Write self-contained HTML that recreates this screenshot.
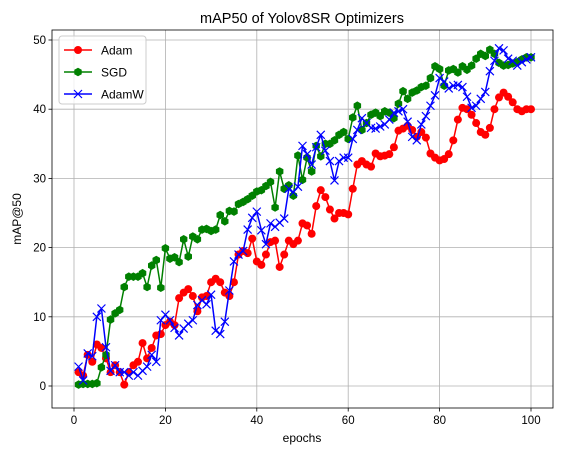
<!DOCTYPE html>
<html><head><meta charset="utf-8"><style>
body{margin:0;background:#fff;}
svg{display:block;font-family:"Liberation Sans","DejaVu Sans",sans-serif;}
</style></head><body>
<svg id="chart" width="562" height="455" viewBox="0 0 562 455" xmlns="http://www.w3.org/2000/svg">
<rect width="562" height="455" fill="#fff"/>
<g id="grid"></g>
<g id="series"></g>
<g id="axes"></g>
<text x="302" y="23" font-size="14.5" text-anchor="middle">mAP50 of Yolov8SR Optimizers</text>
<text x="302" y="442" font-size="12" text-anchor="middle">epochs</text>
<text x="21" y="219" font-size="12" text-anchor="middle" transform="rotate(-90 21 219)">mAP@50</text>
<g>
<rect x="59" y="36" width="87" height="68" rx="3" fill="#fff" fill-opacity="0.8" stroke="#ccc"/>
<g><line x1="64" y1="50" x2="92" y2="50" stroke="red" stroke-width="1.5"/><circle cx="78" cy="50" r="4" fill="red"/><text x="101" y="54.5" font-size="12">Adam</text></g>
<g><line x1="64" y1="72" x2="92" y2="72" stroke="green" stroke-width="1.5"/><polygon id="lghex" fill="green" points=""/><text x="101" y="76.5" font-size="12">SGD</text></g>
<g><line x1="64" y1="94" x2="92" y2="94" stroke="blue" stroke-width="1.5"/><path d="M74 90L82 98M82 90L74 98" stroke="blue" stroke-width="1.2"/><text x="101" y="98.5" font-size="12">AdamW</text></g>
</g>
</svg>
<script>
const adam=[2.0,1.5,4.5,3.5,6,5.5,4,2,3,2,0.2,2,3,3.5,6.2,4,5.5,7.3,7.5,8.8,9.3,8.8,12.7,13.5,14,13,10.8,12.8,13,15,15.5,15,13.5,13,15,19,19.5,19.2,21.3,18,17.5,19,20.8,21,17.2,19,21,20.5,21,23.5,23.2,22,26,28.3,27.3,25.5,24.2,25,25,24.8,28.5,32,32.5,32,31.7,33.6,33.2,33.3,33.5,34.5,36.9,37.2,37.6,37,36,36.7,35.9,33.6,33,32.6,32.8,33.5,35.5,38.5,40.2,40,39.2,38,36.7,36.3,37.3,40,41.7,42.4,41.8,41,40,39.7,40,40];
const sgd=[0.2,0.3,0.3,0.3,0.4,2.7,4.5,9.6,10.5,11,14.3,15.8,15.8,15.8,16.3,14.3,17.4,18.2,14.2,19.9,18.4,18.6,17.9,21.2,18.7,21.6,21.2,22.6,22.7,22.4,22.6,24.7,23.8,25.3,25.2,26.3,26.6,27.0,27.5,28.1,28.3,28.9,29.5,25.8,31,28.5,29,27.5,33.3,29.8,33,31,34.7,33.2,35,35,35.5,36.3,36.7,35.7,38.8,40.5,37,38,39.2,39.5,39,39.7,39.5,38.7,40.8,42.6,41.5,42.4,42.7,43.2,43.4,44.5,46.2,45.8,43.4,45.6,45.8,45.3,46.2,45.7,46.3,47.3,48,47.7,48.6,48,46.7,46.3,46.4,46.6,46.8,47.2,47.5,47.5];
const adamw=[2.8,0.8,4.7,4.3,10,11.2,5.6,2.2,3,2,2,1.5,2,1.5,2.2,2.8,4.5,3.5,9.5,10.3,9.5,8.4,7.3,8.3,9,9.5,11.7,12.4,11.8,13.2,8,7.5,9.3,13.8,18,19,19.5,22.6,24.3,25.2,22.5,20.5,23.5,23,23.6,24.2,28.5,28,28.8,34.7,33.5,32,34.5,36.3,34,32.5,29.7,32.5,33,33,35.7,37,38.7,38,37.3,37.2,37.5,37.8,38.5,39.5,39.7,40,38.2,36,35.5,37.8,39,40.5,42,44.5,44,43,43.4,43.5,43.2,41.8,40.2,40.5,41.5,42.5,45.5,47,48.8,48.5,47.3,47,46.3,46.8,47.2,47.5];
const xTicks=[0,20,40,60,80,100];
const yTicks=[0,10,20,30,40,50];
const L=52,R=553,T=30,B=408;
const xs=v=>74+v*4.57;
const ys=v=>386-v*6.92;
const NS="http://www.w3.org/2000/svg";
function mk(tag,attrs,parent){const e=document.createElementNS(NS,tag);for(const k in attrs)e.setAttribute(k,attrs[k]);parent.appendChild(e);return e;}
const grid=document.getElementById('grid'),axes=document.getElementById('axes'),ser=document.getElementById('series');
xTicks.forEach(t=>{const x=xs(t);
 const g=mk('line',{x1:x,x2:x,y1:T,y2:B,stroke:'#b0b0b0','stroke-width':0.8},grid);
 
 
 mk('line',{x1:x,x2:x,y1:B,y2:B+3.5,stroke:'#000','stroke-width':0.8},axes);
 const tx=mk('text',{x:x,y:B+16,'font-size':11.5,'text-anchor':'middle'},axes);tx.textContent=t;
 
 
});
yTicks.forEach(t=>{const y=ys(t);
 const g=mk('line',{x1:L,x2:R,y1:y,y2:y,stroke:'#b0b0b0','stroke-width':0.8},grid);
 
 
 mk('line',{x1:L-3.5,x2:L,y1:y,y2:y,stroke:'#000','stroke-width':0.8},axes);
 const tx=mk('text',{x:L-6,y:y+4,'font-size':11.5,'text-anchor':'end'},axes);tx.textContent=t;
 
 
});
const fr=mk('rect',{x:L,y:T,width:R-L,height:B-T,fill:'none',stroke:'#000','stroke-width':0.8},axes);


function hex(cx,cy,r){let p=[];for(let i=0;i<6;i++){const a=Math.PI/6+i*Math.PI/3;p.push((cx+r*Math.cos(a)).toFixed(1)+','+(cy+r*Math.sin(a)).toFixed(1));}return p.join(' ');}
document.getElementById('lghex').setAttribute('points',hex(78,72,4.3));
function draw(data,color,marker,name){
 const g=mk('g',{},ser);
 
 
 const pts=data.map((v,i)=>xs(i+1).toFixed(1)+','+ys(v).toFixed(1)).join(' ');
 const pl=mk('polyline',{points:pts,fill:'none',stroke:color,'stroke-width':1.5,'stroke-linejoin':'round'},g);
 
 
 data.forEach((v,i)=>{const x=xs(i+1),y=ys(v);let m;
  if(marker==='o')m=mk('circle',{cx:x,cy:y,r:4,fill:color},g);
  else if(marker==='h')m=mk('polygon',{points:hex(x,y,4.3),fill:color},g);
  else m=mk('path',{d:`M${x-4} ${y-4}L${x+4} ${y+4}M${x+4} ${y-4}L${x-4} ${y+4}`,stroke:color,'stroke-width':1.2,fill:'none'},g);
  
  
 });
}
draw(adam,'red','o','adam');
draw(sgd,'green','h','sgd');
draw(adamw,'blue','x','adamw');
</script>
</body></html>
